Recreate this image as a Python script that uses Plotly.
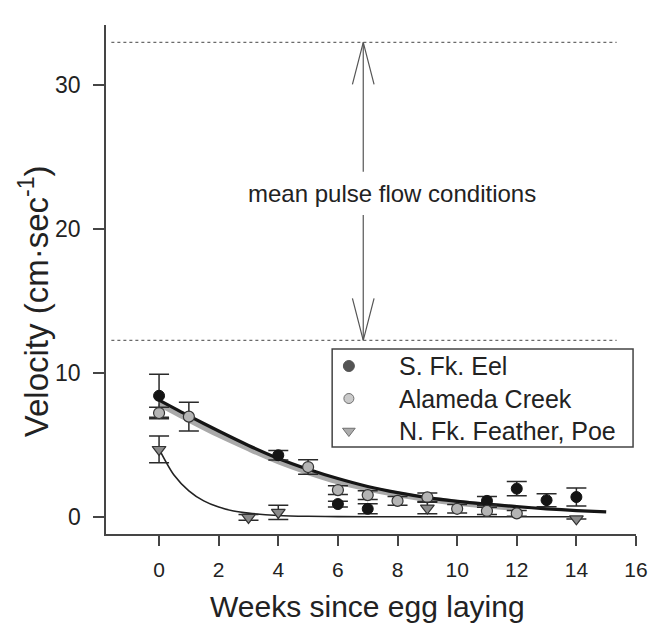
import plotly.graph_objects as go

# ---------------- data ----------------
series_names = ["S. Fk. Eel", "Alameda Creek", "N. Fk. Feather, Poe"]

weeks_eel = [0, 4, 6, 7, 11, 12, 13, 14]
vel_eel = [8.45, 4.32, 0.93, 0.6, 1.15, 2.0, 1.2, 1.42]
err_eel = [1.5, 0.33, 0.2, 0.35, 0.3, 0.5, 0.45, 0.63]

weeks_ala = [0, 1, 5, 6, 7, 8, 9, 10, 11, 12]
vel_ala = [7.25, 7.0, 3.5, 1.9, 1.55, 1.15, 1.4, 0.6, 0.45, 0.28]
err_ala = [0.4, 1.0, 0.5, 0.3, 0.3, 0.3, 0.3, 0.3, 0.25, 0.2]

weeks_fea = [0, 3, 4, 9, 14]
vel_fea = [4.72, 0.0, 0.35, 0.65, -0.1]
err_fea = [0.93, 0.2, 0.5, 0.4, 0.0]

# fitted decay curves
fit_x_eel = [0, 1, 2, 3, 4, 5, 6, 7, 8, 9, 10, 11, 12, 13, 14, 15]
fit_y_eel = [8.15, 7.05, 6.0, 5.0, 4.1, 3.35, 2.7, 2.15, 1.72, 1.38, 1.12, 0.92, 0.75, 0.6, 0.48, 0.38]
fit_x_ala = [0, 1, 2, 3, 4, 5, 6, 7, 8, 9, 10, 11, 12]
fit_y_ala = [7.9, 6.8, 5.75, 4.8, 3.9, 3.15, 2.5, 2.0, 1.6, 1.28, 1.02, 0.82, 0.65]
fit_x_fea = [0, 0.5, 1, 1.5, 2, 2.5, 3, 4, 5, 6, 8, 10, 12, 14]
fit_y_fea = [4.75, 2.95, 1.85, 1.15, 0.72, 0.45, 0.3, 0.14, 0.08, 0.06, 0.05, 0.05, 0.05, 0.05]

# pulse flow reference lines and arrow
pulse_low = 12.3
pulse_high = 33.0
pulse_x = [-1.6, 15.35]
arrow_x = 6.85
shaft_up_start = 24.0
shaft_down_start = 21.0
annotation_text = "mean pulse flow conditions"
annotation_pos = (7.83, 22.5)

x_ticks = [0, 2, 4, 6, 8, 10, 12, 14, 16]
y_ticks = [0, 10, 20, 30]
y_tick_labels = ["0", "10", "20", "30"]
x_range = [-1.78, 16]
y_range = [-1.15, 34.2]

# ---------------- styling / layout constants ----------------
FONT = "Liberation Sans, Arial, sans-serif"
TXT = "#222222"
AX = "#454545"
W, H = 660, 623
ML, MR, MT, MB = 106, 15, 25, 89
PW, PH = W - ML - MR, H - MT - MB


def px_x(px):  # pixel column -> plot-area fraction
    return (px - ML) / PW


def px_y(py):  # pixel row -> plot-area fraction
    return (H - MB - py) / PH


styles = [
    dict(symbol="circle", size=11, color="#141414", line=dict(color="#141414", width=1)),
    dict(symbol="circle", size=11, color="#b4b4b4", line=dict(color="#333333", width=1.2)),
    dict(symbol="triangle-down", size=12, color="#8a8a8a", line=dict(color="#333333", width=1.2)),
]
legend_marker_sizes = [11, 10, 11]

fig = go.Figure()

# fitted curves
fig.add_trace(go.Scatter(x=fit_x_ala, y=fit_y_ala, mode="lines",
                         line=dict(color="#a9a9a9", width=6, shape="spline", smoothing=0.8),
                         showlegend=False, hoverinfo="skip"))
fig.add_trace(go.Scatter(x=fit_x_eel, y=fit_y_eel, mode="lines",
                         line=dict(color="#151515", width=3.2, shape="spline", smoothing=0.8),
                         showlegend=False, hoverinfo="skip"))
fig.add_trace(go.Scatter(x=fit_x_fea, y=fit_y_fea, mode="lines",
                         line=dict(color="#222222", width=1.6, shape="spline", smoothing=0.8),
                         showlegend=False, hoverinfo="skip"))

# pulse flow dotted lines
for yv in (pulse_low, pulse_high):
    fig.add_trace(go.Scatter(x=pulse_x, y=[yv, yv], mode="lines",
                             line=dict(color="#6a6a6a", width=1.3, dash="dot"),
                             showlegend=False, hoverinfo="skip"))

# arrow shafts
fig.add_trace(go.Scatter(x=[arrow_x, arrow_x], y=[shaft_up_start, pulse_high], mode="lines",
                         line=dict(color="#555555", width=1.2), showlegend=False, hoverinfo="skip"))
fig.add_trace(go.Scatter(x=[arrow_x, arrow_x], y=[shaft_down_start, pulse_low], mode="lines",
                         line=dict(color="#555555", width=1.2), showlegend=False, hoverinfo="skip"))

# open arrow heads (size in pixels converted to data units)
px_per_x = PW / (x_range[1] - x_range[0])
px_per_y = PH / (y_range[1] - y_range[0])
hw = 11 / px_per_x
hl = 42 / px_per_y
fig.add_trace(go.Scatter(x=[arrow_x - hw, arrow_x, arrow_x + hw],
                         y=[pulse_high - hl, pulse_high, pulse_high - hl], mode="lines",
                         line=dict(color="#555555", width=1.2), showlegend=False, hoverinfo="skip"))
fig.add_trace(go.Scatter(x=[arrow_x - hw, arrow_x, arrow_x + hw],
                         y=[pulse_low + hl, pulse_low, pulse_low + hl], mode="lines",
                         line=dict(color="#555555", width=1.2), showlegend=False, hoverinfo="skip"))

err_style = dict(type="data", visible=True, color="#2a2a2a", thickness=1.5, width=10)

for name, xs, ys, es, st in zip(series_names,
                                [weeks_eel, weeks_ala, weeks_fea],
                                [vel_eel, vel_ala, vel_fea],
                                [err_eel, err_ala, err_fea], styles):
    fig.add_trace(go.Scatter(x=xs, y=ys, mode="markers", name=name,
                             error_y=dict(array=es, **err_style),
                             marker=st, showlegend=False))

# ---------------- legend (drawn as a boxed key) ----------------
fig.add_shape(type="rect", xref="paper", yref="paper",
              x0=px_x(336), x1=px_x(642), y0=px_y(447), y1=px_y(349),
              line=dict(color="#444444", width=1.5), fillcolor="white", layer="below")
LEG_FONT = 25
key_center_y = 398.5
key_marker_x = 353
key_text_x = 402
line_step = 1.3 * LEG_FONT
row_marker_y = [key_center_y + (i - 1) * line_step for i in range(3)]
fig.add_trace(go.Scatter(
    x=[px_x(key_marker_x)] * 3, y=[px_y(v) for v in row_marker_y],
    xaxis="x2", yaxis="y2", mode="markers", showlegend=False, hoverinfo="skip",
    marker=dict(symbol=[s["symbol"] for s in styles], size=legend_marker_sizes,
                color=["#0c0c0c", "#b4b4b4", "#8a8a8a"],
                line=dict(color=["#0c0c0c", "#333333", "#333333"], width=1))))
fig.add_annotation(xref="paper", yref="paper", x=px_x(key_text_x), y=px_y(key_center_y),
                   text="<br>".join(series_names), showarrow=False, align="left",
                   xanchor="left", yanchor="middle",
                   font=dict(size=LEG_FONT, color=TXT, family=FONT))

fig.add_annotation(x=annotation_pos[0], y=annotation_pos[1], text=annotation_text,
                   showarrow=False, font=dict(size=24, color=TXT, family=FONT),
                   xanchor="center", yanchor="middle")

# y tick labels placed explicitly (right edge ~13 px left of the tick marks)
for tv, tl in zip(y_ticks, y_tick_labels):
    fig.add_annotation(xref="paper", yref="y", x=px_x(83), y=tv, text=tl,
                       showarrow=False, xanchor="right", yanchor="middle",
                       font=dict(size=23, color=TXT, family=FONT))

# axis titles as annotations for exact placement
fig.add_annotation(xref="paper", yref="paper", x=px_x(372), y=px_y(606),
                   text="Weeks since egg laying", showarrow=False,
                   font=dict(size=30, color=TXT, family=FONT), xanchor="center", yanchor="middle")
fig.add_annotation(xref="paper", yref="paper", x=px_x(33), y=px_y(301),
                   text="Velocity (cm·sec<sup>-1</sup>)", showarrow=False, textangle=-90,
                   font=dict(size=33, color=TXT, family=FONT), xanchor="center", yanchor="middle")

fig.update_layout(
    width=W, height=H,
    margin=dict(l=ML, r=MR, t=MT, b=MB),
    paper_bgcolor="white", plot_bgcolor="white",
    font=dict(family=FONT, color=TXT),
    showlegend=False,
    xaxis=dict(range=x_range, tickvals=x_ticks, ticks="outside", ticklen=10, tickwidth=1.5,
               tickcolor=AX, showline=True, linecolor=AX, linewidth=2, showgrid=False,
               zeroline=False, tickfont=dict(size=21, color=TXT, family=FONT),
               ticklabelstandoff=6),
    yaxis=dict(range=y_range, tickvals=y_ticks, ticks="outside", ticklen=11, tickwidth=1.5,
               tickcolor=AX, showline=True, linecolor=AX, linewidth=2, showgrid=False,
               zeroline=False, showticklabels=False),
    xaxis2=dict(overlaying="x", range=[0, 1], visible=False, fixedrange=True),
    yaxis2=dict(overlaying="y", range=[0, 1], visible=False, fixedrange=True),
)

fig.write_html("out.html", config={"displayModeBar": False},
               post_script="document.body.style.margin='0px';document.body.style.overflow='hidden';")
